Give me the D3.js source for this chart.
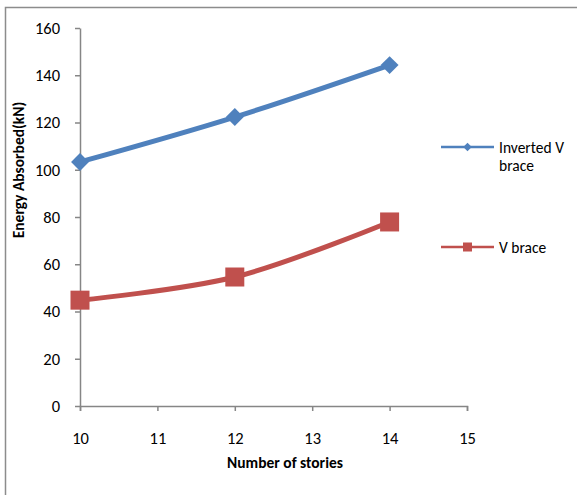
<!DOCTYPE html>
<html><head><meta charset="utf-8">
<script src="https://cdn.jsdelivr.net/npm/d3@7"></script>
<style>body{margin:0;background:#fff}svg{display:block}</style>
</head><body>
<script>
const stories = [10, 12, 14];
const invertedV = [103.3, 122.3, 144.3];
const vBrace = [44.8, 54.6, 77.9];
const xTicks = [10, 11, 12, 13, 14, 15];
const yTicks = [0, 20, 40, 60, 80, 100, 120, 140, 160];
const seriesNames = ["Inverted V brace", "V brace"];

const W = 577, H = 495;
const svg = d3.select("body").append("svg").attr("width", W).attr("height", H);
const font = "Carlito, Lato, 'Liberation Sans', sans-serif";

// chart border (top & left visible)
svg.append("rect").attr("x", 5.5).attr("y", 7.5).attr("width", 600).attr("height", 600)
  .attr("fill", "none").attr("stroke", "#8c8c8c").attr("stroke-width", 1.5);

const x = d3.scaleLinear().domain([10, 15]).range([80, 467]);
const y = d3.scaleLinear().domain([0, 160]).range([406, 28]);

const axisColor = "#868686";
const gx = svg.append("g").attr("transform", "translate(0,406)")
  .call(d3.axisBottom(x).tickValues(xTicks).tickFormat(d3.format("d")).tickSizeInner(5).tickSizeOuter(5).tickPadding(21));
const gy = svg.append("g").attr("transform", "translate(80,0)")
  .call(d3.axisLeft(y).tickValues(yTicks).tickSizeInner(5).tickSizeOuter(0).tickPadding(15));
[gx, gy].forEach(g => {
  g.selectAll("path,line").attr("stroke", axisColor).attr("stroke-width", 1.5);
  g.selectAll("text").attr("font-family", font).attr("font-size", 16.5).attr("fill", "#000");
});

svg.append("text").attr("x", 285).attr("y", 468).attr("text-anchor", "middle")
  .attr("font-family", font).attr("font-size", 15.5).attr("font-weight", "bold").text("Number of stories");
svg.append("text").attr("transform", "translate(24,170) rotate(-90)").attr("text-anchor", "middle")
  .attr("font-family", font).attr("font-size", 15.5).attr("font-weight", "bold").text("Energy Absorbed(kN)");

const line = d3.line().x(d => x(d[0])).y(d => y(d[1])).curve(d3.curveCatmullRom.alpha(0.5));
const blue = "#4F81BD", red = "#C0504D";

const dataI = stories.map((s, i) => [s, invertedV[i]]);
const dataV = stories.map((s, i) => [s, vBrace[i]]);

svg.append("path").attr("d", line(dataI)).attr("fill", "none").attr("stroke", blue).attr("stroke-width", 5);
svg.append("path").attr("d", line(dataV)).attr("fill", "none").attr("stroke", red).attr("stroke-width", 5);

const diamond = d3.symbol().type(d3.symbolSquare).size(160);
svg.selectAll(".dI").data(dataI).enter().append("path")
  .attr("d", diamond).attr("fill", blue)
  .attr("transform", d => `translate(${x(d[0])},${y(d[1])}) rotate(45)`);
svg.selectAll(".sV").data(dataV).enter().append("rect")
  .attr("x", d => x(d[0]) - 9.5).attr("y", d => y(d[1]) - 9.5).attr("width", 19).attr("height", 19)
  .attr("fill", red);

// legend
const lg = svg.append("g");
lg.append("line").attr("x1", 441).attr("x2", 494).attr("y1", 147).attr("y2", 147).attr("stroke", blue).attr("stroke-width", 2.5);
lg.append("path").attr("d", d3.symbol().type(d3.symbolSquare).size(36)).attr("fill", blue)
  .attr("transform", "translate(467.5,147) rotate(45)");
lg.append("text").attr("x", 499).attr("y", 153).attr("font-family", font).attr("font-size", 15.5).text("Inverted V");
lg.append("text").attr("x", 499).attr("y", 171).attr("font-family", font).attr("font-size", 15.5).text("brace");
lg.append("line").attr("x1", 441).attr("x2", 494).attr("y1", 247).attr("y2", 247).attr("stroke", red).attr("stroke-width", 2.5);
lg.append("rect").attr("x", 463).attr("y", 242.5).attr("width", 9).attr("height", 9).attr("fill", red);
lg.append("text").attr("x", 499).attr("y", 253).attr("font-family", font).attr("font-size", 15.5).text("V brace");
</script>
</body></html>
